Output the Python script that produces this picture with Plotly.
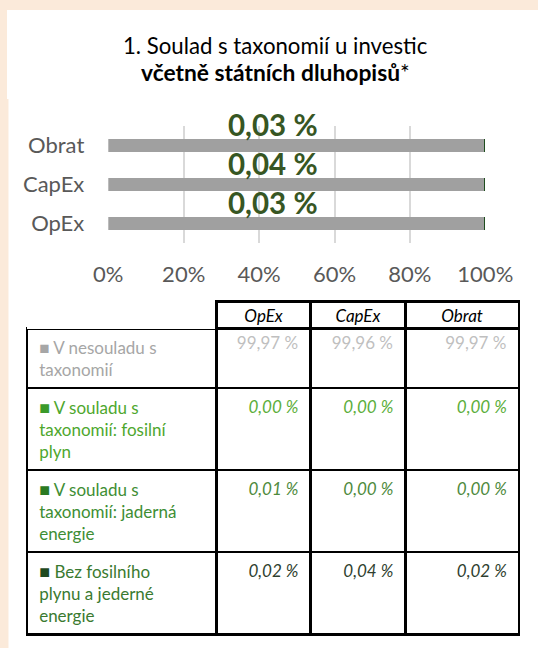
import plotly.graph_objects as go

# ---------------- data ----------------
categories = ["OpEx", "CapEx", "Obrat"]
not_aligned = [99.97, 99.96, 99.97]
aligned_fossil_gas = [0.00, 0.00, 0.00]
aligned_nuclear = [0.01, 0.00, 0.00]
aligned_other = [0.02, 0.04, 0.02]
total_aligned_labels = ["0,03 %", "0,04 %", "0,03 %"]

x_tick_vals = [0, 20, 40, 60, 80, 100]
x_tick_text = ["0%", "20%", "40%", "60%", "80%", "100%"]

title_line1 = "1. Soulad s taxonomií u investic"
title_line2 = "včetně státních dluhopisů"

table_header = ["", "OpEx", "CapEx", "Obrat"]
row_labels = [
    "V nesouladu s<br>taxonomií",
    "V souladu s<br>taxonomií: fosilní<br>plyn",
    "V souladu s<br>taxonomií: jaderná<br>energie",
    "Bez fosilního<br>plynu a jederné<br>energie",
]
series_values = [not_aligned, aligned_fossil_gas, aligned_nuclear, aligned_other]

# ---------------- styles ----------------
FONT = "Lato"
W, H = 538, 648
BAR_GRAY = "#A0A0A0"
bar_colors = [BAR_GRAY, "#4EA72E", "#2E7D32", "#1E4D1E"]
square_colors = ["#A6A6A6", "#3A9A2A", "#2A7A22", "#1F4A1F"]
square_sizes = [None, 18, 18, 18]
label_colors = ["#A6A6A6", "#4EA72E", "#3E8E34", "#3A7A30"]
value_colors = ["#BFBFBF", "#5BAE3A", "#4E8A3C", "#2F3F2F"]
value_italic = [False, True, True, True]
LABEL_X = 43.6

def fmt(v, italic):
    s = f"{v:.2f}".replace(".", ",") + "\u00a0%\u00a0"
    return f"<i>{s}</i>" if italic else s

fig = go.Figure()
names = ["V nesouladu s taxonomií", "fosilní plyn", "jaderná energie", "Bez fosilního plynu a jaderné energie"]
for vals, col, nm in zip(series_values, bar_colors, names):
    fig.add_trace(go.Bar(
        y=categories, x=list(vals), orientation="h", name=nm,
        marker=dict(color=col, line=dict(width=0)), width=0.333,
        showlegend=False, hoverinfo="skip",
    ))

annotations = []
for cat, lbl in zip(categories, total_aligned_labels):
    annotations.append(dict(
        x=LABEL_X, y=cat, xref="x", yref="y", yshift=21, showarrow=False,
        text=f"<b>{lbl}</b>", font=dict(family=FONT, size=29.5, color="#375623"),
        xanchor="center", yanchor="middle",
    ))
annotations.append(dict(x=275.4 / W, y=1 - 46 / H, xref="paper", yref="paper", showarrow=False,
                        text=title_line1, font=dict(family=FONT, size=22.2, color="#000000"),
                        xanchor="center", yanchor="middle"))
annotations.append(dict(x=275.4 / W, y=1 - 72 / H, xref="paper", yref="paper", showarrow=False,
                        text=f"<b>{title_line2}</b>*", font=dict(family=FONT, size=22.8, color="#000000"),
                        xanchor="center", yanchor="middle"))

# table
label_cells = []
for i, lab in enumerate(row_labels):
    lines = lab.split("<br>")
    sz = f"font-size:{square_sizes[i]}px;" if square_sizes[i] else ""
    first = f"<span style='color:{square_colors[i]};{sz}'>■</span> {lines[0]}"
    rest = ["\u00a0" + l for l in lines[1:]]
    label_cells.append("<br>".join(["\u00a0" + first] + rest))

value_cols = []
for ci in range(3):
    value_cols.append([fmt(series_values[r][ci], value_italic[r]) for r in range(4)])

fig.add_trace(go.Table(
    domain=dict(x=[26.8 / W, 519.3 / W], y=[0, 1 - 301.7 / H]),
    columnwidth=[190, 94, 95, 113.6],
    header=dict(
        values=table_header, align="center", height=27,
        font=dict(family=FONT, size=17, color="#000000", style="italic"),
        line=dict(color="#000000", width=[0, 2.5, 2.5, 2.5]),
        fill=dict(color="#FFFFFF"),
    ),
    cells=dict(
        values=[label_cells] + value_cols,
        align=["left", "right", "right", "right"],
        height=25,
        font=dict(family=FONT, size=17,
                  color=[label_colors, value_colors, value_colors, value_colors]),
        line=dict(color="#000000", width=2.5),
        fill=dict(color="#FFFFFF"),
    ),
))

fig.update_layout(
    width=W, height=H, autosize=False,
    margin=dict(l=0, r=0, t=0, b=0, pad=0, autoexpand=False),
    paper_bgcolor="#FBEADA", plot_bgcolor="rgba(0,0,0,0)",
    barmode="stack",
    annotations=annotations,
    shapes=[
        dict(type="rect", xref="paper", yref="paper", x0=7 / W, x1=1, y0=1 - 99 / H, y1=1 - 10 / H,
             fillcolor="#FFFFFF", line=dict(width=0), layer="below"),
        dict(type="rect", xref="paper", yref="paper", x0=8.5 / W, x1=1, y0=0, y1=1 - 99 / H,
             fillcolor="#FFFFFF", line=dict(width=0), layer="below"),
    ],
    xaxis=dict(domain=[108.3 / W, 485.3 / W], range=[0, 100], autorange=False,
               tickvals=x_tick_vals, ticktext=x_tick_text,
               showgrid=True, gridcolor="#D9D9D9", gridwidth=1.5, zeroline=False, showline=False,
               tickfont=dict(family=FONT, size=22, color="#595959"), ticks="", ticklabelstandoff=16,
               automargin=False, fixedrange=True),
    yaxis=dict(domain=[1 - 243 / H, 1 - 126 / H], categoryorder="array", categoryarray=categories,
               range=[-0.5, 2.5], autorange=False,
               showgrid=False, zeroline=False, showline=False,
               tickfont=dict(family=FONT, size=22, color="#595959"), ticks="", ticklabelstandoff=23,
               automargin=False, fixedrange=True),
    font=dict(family=FONT),
)

fig.write_html("out.html")
